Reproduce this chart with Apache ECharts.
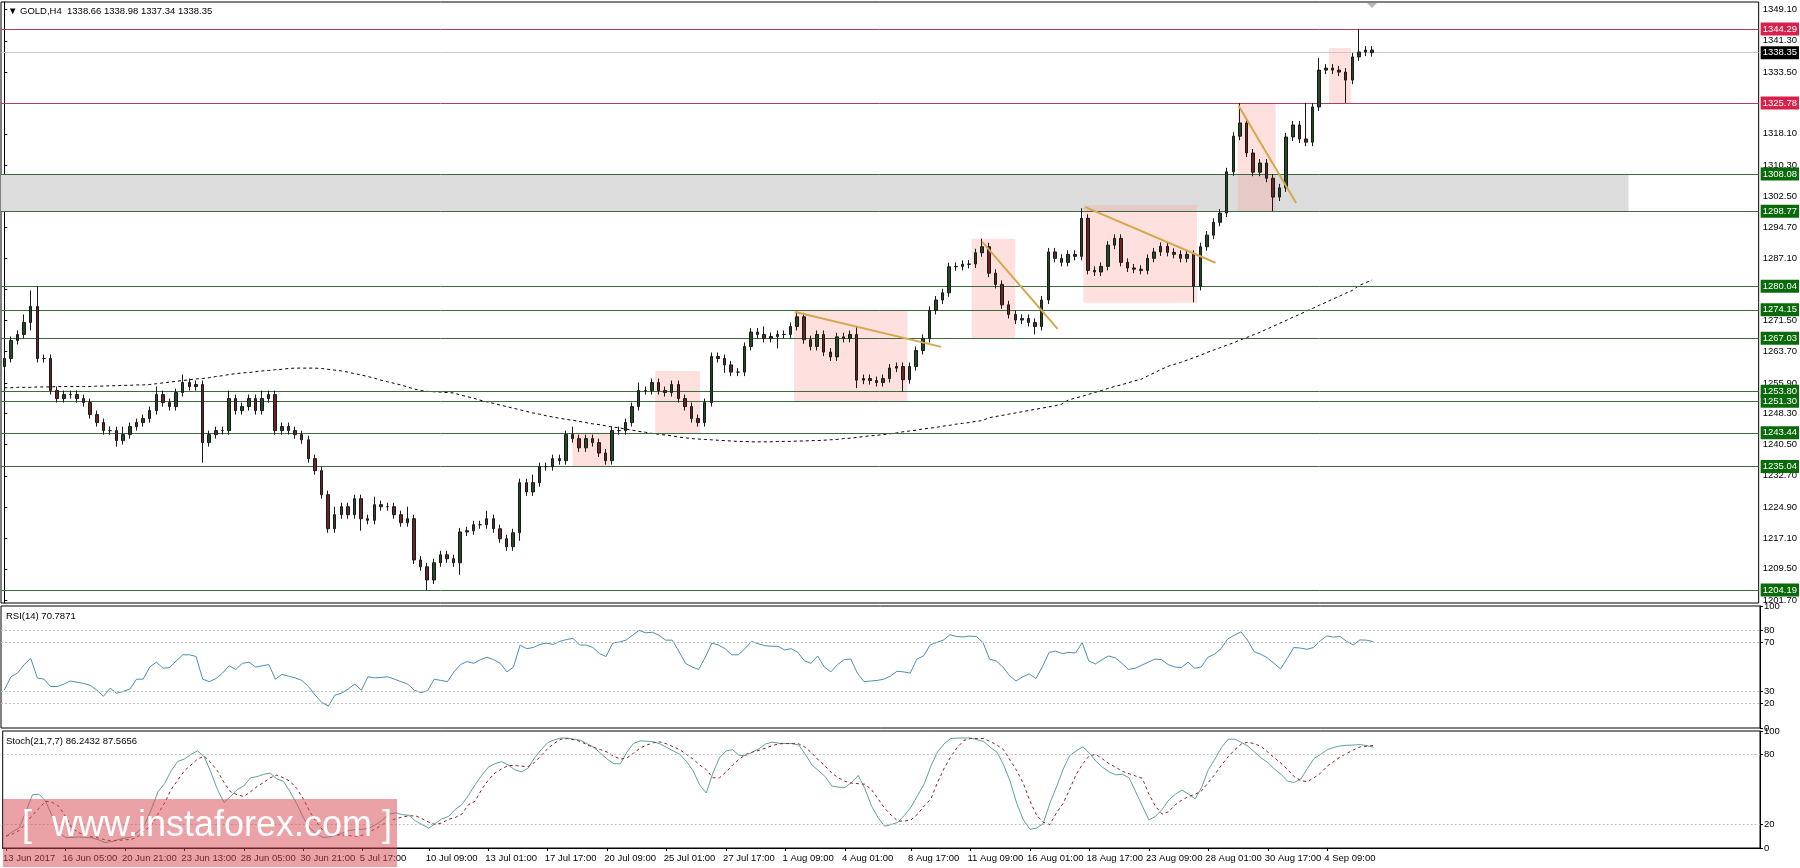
<!DOCTYPE html>
<html><head><meta charset="utf-8">
<script src="https://cdn.jsdelivr.net/npm/echarts@6/dist/echarts.min.js"></script>
<style>html,body{margin:0;padding:0;background:#fff}#c{width:1800px;height:868px}</style>
</head><body><div id="c"></div>
<script>
// ---- data ----
const closes=[1262,1266.5,1268,1271,1275,1262,1262,1254,1252,1253,
1253,1252,1251,1248,1246,1244,1244,1241.5,1243,1245,
1246,1247,1249,1253,1251,1250,1253.5,1256,1255,1255.5,
1241,1243,1244,1244,1252,1249,1250,1252,1249,1252,
1253,1244,1245,1244,1243,1241.7,1237,1234,1228,1219.5,
1223,1225,1223,1227,1222,1221.6,1225.5,1225,1225,1223,
1221,1222,1211.7,1210,1206.7,1211,1213,1212,1211,1218.7,
1219,1220.5,1220.5,1222,1219.5,1217,1215,1218.5,1231,1228.7,
1231,1235,1235,1237,1236.5,1243,1242,1239.7,1242,1241,
1238.4,1236.5,1244,1244,1246,1250,1254,1254,1256,1254,
1253.5,1255.5,1252,1250,1247,1246,1251,1262.5,1262,1260.4,
1258.6,1258.6,1265,1268.6,1268,1267,1267.5,1268,1268,1270,
1272.4,1266.7,1265,1268,1263.6,1262.4,1267.4,1267,1268,1256.6,
1257,1256.5,1256,1257,1259.6,1260,1256.7,1260,1264,1267,
1274,1276.6,1278.4,1284.9,1285,1285.5,1285.6,1288.4,1289.9,1283.3,
1280.5,1275.4,1273,1271.6,1272,1271,1270,1276.6,1288.6,1287,
1286,1288,1287.5,1297,1284,1283.6,1285,1290.3,1292,1286,
1284.6,1284.3,1284,1287,1288.6,1290,1288.5,1288,1287,1288,
1280,1289.9,1292.8,1296,1298.3,1308.6,1317.5,1320.8,1313.3,1308.5,
1310.8,1307,1302.3,1304.6,1317.3,1320.3,1316.8,1316,1324.8,1334,
1334.5,1334,1333.5,1331.5,1337.3,1338.5,1339,1338.35];
const firstOpen=1260;
const wickHi=[1,1,1,2,4,5,1,1,1,1, 1,1,1,1,1,1,1,1,2,1, 1,1,1,2,1,1,1,2,1,1, 1,1,1,1,2,1,1,1,1,2,
1,1,1,1,1,1,1,1,1,1, 2,1,1,1,1,1,2,1,1,1, 1,3,1,1,1,1,1,1,1,1, 1,1,1,2,1,1,1,1,1,1,
2,1,1,1,1,1,2,1,1,1, 1,1,1,1,1,1,2,1,1,1, 1,1,1,1,1,1,1,1,1,1, 1,1,1,1,1,2,1,1,1,1,
1,1,1,1,1,1,1,1,1,2, 1,1,1,1,1,1,1,1,1,1, 1,1,1,1,1,1,1,1,2,1, 1,1,1,1,1,1,1,1,1,1,
1,1,1,2.5,1,1,1,1,1,1, 1,1,1,1,1,1,1,1,1,1, 1,1,1,1,1,1,1,5,1,1, 1,1,1,1,1,1,1,9,1,3,
1,1,1,1,1,5.8,1,1];
const wickLo=[1,1,1,1,2,1,1,1,1,1, 1,1,1,1,1,1,1,1.5,1,1, 1,1,1,1,1,1,1,1,1,1, 5,1,1,1,1,1,1,1,1,1,
1,1,1,1,1,1,1,1,1,1, 1,1,1,1,3,1,1,1,1,1, 1,1,1,1,2.5,1,1,1,1,3, 1,1,1,1,1,1,1,1,2,1,
1,1,1,1,1,1,1,1,1,1, 1,1,1,1,1,1,1,1,1,1, 1,1,1,1,1,1,1,1,1,2, 1,1,1,1,1,1,1,3,1,1,
1,1,1,1,1,1,1,1,1,2, 1,1,1,1,1,1,3,1,1,1, 1,1,1,1,1,1,1,1,1,1, 1,1,1,1,1,1,2,1,1,1,
1,1,1,1,1,1,1,1,1,1, 1,1,1,1,1,1,1,1,1,1, 4,1,1,1,1,1,1,1,1,1, 1,1,3.5,1,1,1,1,1,1,1,
1,1,1,5.7,1,1,1,1];
const ma=[1254.7,1254.7,1254.8,1254.8,1254.8,1254.9,1254.9,1254.9,1255,1255,1255,1255,1255,
1255,1255.1,1255.1,1255.2,1255.2,1255.3,1255.3,1255.4,1255.4,1255.5,
1255.7,1255.9,1256.1,1256.3,1256.5,1256.7,1256.9,1257,
1257.2,1257.5,1257.7,1258,1258.2,1258.4,1258.5,
1258.7,1258.9,1259,1259.2,1259.3,1259.5,1259.6,
1259.6,1259.6,1259.6,1259.5,
1259.3,1259.1,1258.9,1258.6,
1258.2,1257.9,1257.5,1257.1,1256.6,
1256.2,1255.8,1255.4,1254.9,1254.4,1254,
1253.8,1253.7,1253.6,1253.5,1253.4,
1252.9,1252.5,1252.1,1251.6,1251.2,
1250.8,1250.4,1250,1249.6,1249.2,1248.8,1248.4,1248.1,1247.7,1247.4,
1247.1,1246.8,1246.6,1246.3,1246,1245.7,1245.5,1245.2,1244.9,1244.7,
1244.4,1244.1,1243.8,1243.6,1243.3,1243.1,1242.9,1242.7,1242.4,1242.2,
1242,1241.9,1241.8,1241.7,1241.6,1241.5,1241.4,1241.3,1241.3,1241.2,
1241.2,1241.2,1241.2,1241.3,1241.3,1241.3,1241.4,1241.4,1241.5,1241.5,
1241.6,1241.7,1241.8,1242,1242.1,1242.3,1242.5,1242.7,1242.8,1243,1243.2,1243.4,
1243.7,1243.9,1244.1,1244.4,1244.6,1244.8,1245.1,1245.3,1245.6,1245.8,1246,1246.3,1246.5,
1247.2,1247.5,1247.8,1248.1,1248.4,1248.7,1249,1249.3,1249.6,1249.9,1250.2,1250.6,
1251.6,1252.1,1252.5,1253,1253.5,1254,1254.5,1255,1255.4,1255.9,1256.4,1256.8,
1257.6,1258.4,1259.2,1260,1260.5,
1261,1261.6,1262.2,1262.8,1263.5,1264.1,1264.7,1265.3,1265.9,1266.6,1267.2,1267.9,
1268.5,1269.3,1270,1270.8,1271.5,1272.3,1273,1273.8,1274.5,1275.3,1276,1276.8,1277.5,1278.3,1279,
1280.2,1280.9,1281.6];
const rsi=[31,42,45,52,57,41,40,34,34,36,38.5,37.5,36.5,35,31,26,32.6,28.5,30,32,
40,40,50,54,49,49.5,55,60,60,58.6,40,38,40.5,45,51,48,53,54,50,51,
52,40,44,42.5,41,39,34,27,21,18,27,28.5,32,36,31,42,41,41.5,42,40,
38,36,31,29,30.5,40,39,38,46,52,54.5,53,56,58,56,53,46,50,68,65,
66,68.5,69.5,68.5,71,72.5,73.5,68,68,66,61,58.6,69.6,70.5,72,76,80,78,78.5,76,
72,72,63,53,50,48,58,69.6,68,65,60,60,65,71,69,67.5,67,67,64,65,
62,55,53,59,50,46,52,56,56.6,45,38,38.5,39,40,42.5,46.5,46,45,56.5,59,
68,70.2,72,76.4,75,74.7,75.3,75,70,56.4,55,50,43,38.5,42,44.4,40.5,50.4,62,63,
61,62,61.5,70,55,52.5,56,59,57.5,53,48,49,51.5,54,56.5,56,52,50,49.5,54,
49,50,58,60.5,65,73,76,78.8,72,62.5,60.5,57.5,53,48.5,57,66,65.5,64.5,66,71.5,
75.5,74.5,75,71,68,72.2,72,70.8];
const stochK=[10,14,17,31,45.5,46,40,27,13,9,9,9.5,9,8.7,7,4.6,5.5,7.2,8.5,9.4,
14,20,33,48,55,66,74,76,80,83,78,65,50,39,44,50,53,60,61,63,
64,59,57,48,38,26,17,12,9,9.5,11,13,15,15.8,16,17,20,24,29,30,
28.5,28,23,20,17,21,25,27,33,37,45,54,62,69,72,73.8,71,67,65,68,
77,84,90,92.5,94,94,93,92,89,86,81,76,72,72,82,89.5,91.5,91.3,90.8,89,
86,83,80,74,66,54,47,64,77,83,84,79,79,82,85,89,90.5,89.5,89.3,89.3,
88,80,71,66,61,53,52,51.8,56,62,51,36,26,18.6,20,22,28,35,45,55,
70,82,89,93.6,94,94,94,92.5,91,86,82,71,57,38,24,16,17,21,38,52,
67,79,83,86.5,81,74,69,65,62.5,63,60,48,36,24,27,33,41,46,49.5,46,
42,52,67,76,86,93,93,90.3,87,82,77,73,67.5,63,57,56,59,68,76.6,80,
84,86,87.3,87.8,88,88.4,87.5,86.2];
const stochD=[10,12,15,21,28,34,40,39,35.6,27,17,13,11,9.5,8.5,7,6,6.5,7,7.3,
10,15,19,29,38.4,50,58,66,71,76,78.5,73,66,56,48,45.5,44,48,52.5,56,
60,62.3,60,57,51,42,31,22,15,12.5,11.3,11,10.5,10,11,14,16.5,20,23,25,
26.5,27.5,27.5,25,22,20,21.5,24.5,26,29,37,40,50,58,64,67.5,70.5,70.5,70,69.5,
73,79,85,89.5,93,93.5,92.5,91,88,86,84,82,78.5,76,77,81,85.5,88,90,90.7,
89,86.5,84,80,76,71,67,60,60,65,71,76,80,82,83.5,85.5,87.5,89,89.3,89.2,
89,86,81,75,70,64,60,57,55.4,55,54.5,50,42,34,28,23,23,24,29,36,
42,56,68,78,86,92,93.6,93.6,93.6,91,88,84,75,66,55,40,28,22,20,30,
38,50,63,72,79,80,76,72,69,65.5,63.5,61.5,59.6,46,35.6,29,31,37,41,44,
46,49,56,63,71,78,84,89,90.5,89,86.7,82,77,72.4,67,61,57.5,56.8,60,64,
70,74,78,81,84,86.4,87,87.6];
const labelIdx=[0,9,18,27,36,45,54,64,73,82,91,100,109,118,127,137,146,155,164,173,182,191,200];
const labelText=['13 Jun 2017','16 Jun 05:00','20 Jun 21:00','23 Jun 13:00','28 Jun 05:00','30 Jun 21:00','5 Jul 17:00','10 Jul 09:00','13 Jul 01:00','17 Jul 17:00','20 Jul 09:00','25 Jul 01:00','27 Jul 17:00','1 Aug 09:00','4 Aug 01:00','8 Aug 17:00','11 Aug 09:00','16 Aug 01:00','18 Aug 17:00','23 Aug 09:00','28 Aug 01:00','30 Aug 17:00','4 Sep 09:00'];
const priceTicks=[1349.10,1341.30,1333.50,1325.70,1318.10,1310.30,1302.50,1294.70,1287.10,1279.30,1271.50,1263.70,1255.90,1248.30,1240.50,1232.70,1224.90,1217.10,1209.50,1201.70];
const greenLevels=[1308.08,1298.77,1280.04,1274.15,1267.03,1253.80,1251.30,1243.44,1235.04,1204.19];
const redLevels=[1344.29,1325.78];
const currentPrice=1338.35;
const zone=[1298.77,1308.08,245.8];
const boxes=[[86,91.7,1235.04,1243.44],[98.5,105.3,1243.4,1258.9],[119.5,136.7,1251.3,1274.0],[146.4,153,1266.9,1291.9],[163.3,180.5,1275.9,1300.3],[186.7,192.4,1298.8,1325.6],[200.5,203.8,1325.8,1339.5]];
const trends=[[119.7,1273.6,141.8,1264.9],[148,1291.1,159.4,1269.4],[163.6,1299.8,183.3,1285.9],[186.8,1325.1,195.5,1300.8]];
const rsiLevels=[80,70,30,20], rsiTicks=[100,80,70,30,20,0];
const stochLevels=[80,20], stochTicks=[100,80,20,0];

// ---- build ----
const N=266;
const cats=[];for(let i=0;i<N;i++){const k=labelIdx.indexOf(i);cats.push(k>=0?labelText[k]:'');}
const ohlc=closes.map((c,i)=>{const o=i?closes[i-1]:firstOpen;return [o,c,Math.min(o,c)-wickLo[i],Math.max(o,c)+wickHi[i]];});
const F='Liberation Sans';
const chart=echarts.init(document.getElementById('c'),null,{renderer:'canvas'});
const lvl=(v,line,bg,fg)=>({yAxis:v,lineStyle:{color:line,width:1,type:'solid'},
  label:{show:true,position:'end',distance:2,formatter:v.toFixed(2),backgroundColor:bg,color:fg,fontFamily:F,fontSize:9.5,padding:[2,2,1,2]}});
const mlData=[...greenLevels.map(v=>lvl(v,'#3d6b3d','#0a6a0a','#fff')),...redLevels.map(v=>lvl(v,'#b0405a','#d8204a','#fff')),lvl(currentPrice,'#c8c8c8','#000','#fff')];
const trendSeries=trends.map(t=>({type:'line',xAxisIndex:1,yAxisIndex:0,data:[[t[0],t[1]],[t[2],t[3]]],symbol:'none',lineStyle:{color:'#d4a84c',width:2},z:6,silent:true}));
const grids=[{left:1,top:2,width:1759,height:601},{left:1,top:606,width:1759,height:122},{left:1,top:731,width:1759,height:117}];
const yBase={position:'right',axisLine:{show:true,lineStyle:{color:'#000'}},axisTick:{show:true,length:3,lineStyle:{color:'#000'}},splitLine:{show:false},axisLabel:{fontFamily:F,fontSize:9.5,color:'#000',margin:4}};
chart.setOption({
 animation:false,
 grid:grids.map(g=>Object.assign({show:true,borderColor:'#000',borderWidth:1,backgroundColor:'#fff'},g)),
 xAxis:[
  {type:'category',gridIndex:0,data:cats,axisLine:{show:false},axisTick:{show:false},axisLabel:{show:false}},
  {type:'value',gridIndex:0,min:-0.5,max:N-0.5,show:false},
  {type:'category',gridIndex:1,data:cats,axisLine:{show:false},axisTick:{show:false},axisLabel:{show:false}},
  {type:'category',gridIndex:2,data:cats,axisLine:{show:true,lineStyle:{color:'#000'}},
   axisTick:{show:true,length:3,alignWithLabel:true,interval:(i)=>labelIdx.indexOf(i)>=0,lineStyle:{color:'#000'}},
   axisLabel:{show:true,interval:(i)=>labelIdx.indexOf(i)>=0,align:'left',fontFamily:F,fontSize:9.5,color:'#000',margin:5,padding:[0,0,0,-3]}}
 ],
 yAxis:[
  Object.assign({},yBase,{gridIndex:0,min:1200.96,max:1351.0,axisLabel:Object.assign({},yBase.axisLabel,{customValues:priceTicks,formatter:v=>v.toFixed(2)}),axisTick:Object.assign({},yBase.axisTick,{customValues:priceTicks})}),
  Object.assign({},yBase,{gridIndex:1,min:0,max:100,axisLabel:Object.assign({},yBase.axisLabel,{customValues:rsiTicks}),axisTick:Object.assign({},yBase.axisTick,{customValues:rsiTicks})}),
  Object.assign({},yBase,{gridIndex:2,min:0,max:100,axisLabel:Object.assign({},yBase.axisLabel,{customValues:stochTicks}),axisTick:Object.assign({},yBase.axisTick,{customValues:stochTicks})})
 ],
 series:[
  {type:'line',xAxisIndex:1,yAxisIndex:0,data:[],silent:true,
   markArea:{silent:true,itemStyle:{color:'#dcdcdc'},data:[[{coord:[-0.5,zone[0]]},{coord:[zone[2],zone[1]]}]]},z:1},
  {type:'line',xAxisIndex:1,yAxisIndex:0,data:[],silent:true,
   markArea:{silent:true,itemStyle:{color:'rgba(252,170,160,0.35)'},data:boxes.map(b=>[{coord:[b[0],b[2]]},{coord:[b[1],b[3]]}])},z:2},
  {type:'candlestick',xAxisIndex:0,yAxisIndex:0,data:ohlc,barWidth:3,
   itemStyle:{color:'#1f4a22',color0:'#6b2424',borderColor:'#1a1a1a',borderColor0:'#1a1a1a',borderWidth:1},
   markLine:{silent:true,symbol:'none',data:mlData},z:5},
  {type:'line',xAxisIndex:0,yAxisIndex:0,data:ma,symbol:'none',lineStyle:{color:'#000',width:1,type:[3,3]},z:4},
  ...trendSeries,
  {type:'line',xAxisIndex:2,yAxisIndex:1,data:rsi,symbol:'none',lineStyle:{color:'#4a90b0',width:1},
   markLine:{silent:true,symbol:'none',label:{show:false},lineStyle:{color:'#c0c0c0',type:[2,2],width:1},data:rsiLevels.map(v=>({yAxis:v}))}},
  {type:'line',xAxisIndex:3,yAxisIndex:2,data:stochK,symbol:'none',lineStyle:{color:'#5fa0a0',width:1},
   markLine:{silent:true,symbol:'none',label:{show:false},lineStyle:{color:'#c0c0c0',type:[2,2],width:1},data:stochLevels.map(v=>({yAxis:v}))}},
  {type:'line',xAxisIndex:3,yAxisIndex:2,data:stochD,symbol:'none',lineStyle:{color:'#8b2020',width:1,type:[3,3]}}
 ],
 graphic:[
  {type:'text',left:8,top:6,style:{text:'▼ GOLD,H4  1338.66 1338.98 1337.34 1338.35',font:'9.5px "Liberation Sans"',fill:'#000'}},
  {type:'text',left:6,top:611,style:{text:'RSI(14) 70.7871',font:'9.5px "Liberation Sans"',fill:'#000'}},
  {type:'text',left:6,top:736,style:{text:'Stoch(21,7,7) 86.2432 87.5656',font:'9.5px "Liberation Sans"',fill:'#000'}},
  {type:'polygon',shape:{points:[[1367,3],[1377,3],[1372,8]]},style:{fill:'#b8b8b8'}},
  {type:'rect',shape:{x:3,y:799,width:394,height:68},style:{fill:'rgba(215,70,80,0.5)'},z:100},
  {type:'text',x:22,y:808,z:101,style:{text:'[  www.instaforex.com ]',font:'36px "Liberation Sans"',fill:'#fff'}}
 ]
});
</script></body></html>
